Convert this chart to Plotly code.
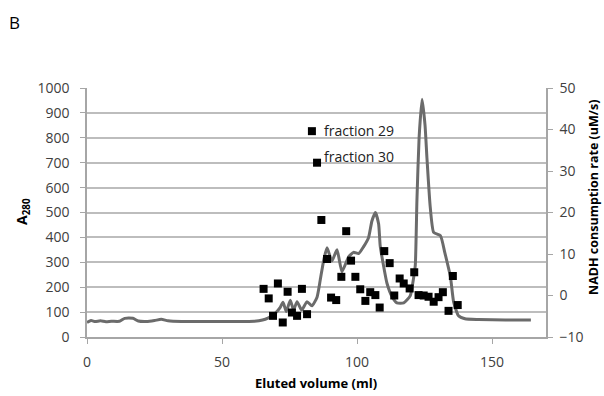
import plotly.graph_objects as go

# A280 elution profile (line, left axis)
volume_line = [0, 1.5, 3, 5, 7, 9, 12, 14, 17, 19, 22, 25, 27.5, 30, 35, 45, 55, 62, 65, 67,
               69.5, 71.5, 72.6, 73.8, 75.3, 76.5, 77.8, 79.5, 81.5, 83.3, 85.2, 86.4, 87.7,
               88.9, 90.7, 92.6, 94.4, 96.0, 96.9, 98.7, 100.6, 102.4, 104.3, 105.5, 106.8,
               108.0, 108.6, 109.9, 111.1, 113.0, 114.8, 117.3, 119.7, 121.0, 121.6, 122.2,
               123.0, 124.1, 125.2, 125.9, 127.1, 128.4, 130.9, 132.5, 134.6, 135.8, 137.6,
               140, 145, 155, 164.4]
a280 = [58, 66, 62, 65, 61, 63, 63, 75, 75, 64, 62, 66, 71, 65, 62, 62, 62, 63, 68, 76,
        93, 118, 140, 102, 148, 108, 142, 108, 142, 125, 160, 230, 310,
        358, 305, 350, 262, 300, 322, 340, 335, 362, 400, 465, 500,
        455, 365, 282, 216, 162, 137, 137, 165, 240, 290, 550,
        800, 955, 850, 720, 525, 420, 407, 340, 242, 140, 85,
        73, 70, 68, 68]

# NADH consumption rate per fraction (markers, right axis)
volume_frac = [65.4, 67.3, 68.9, 70.7, 72.5, 74.3, 75.9, 77.8, 79.6, 81.5, 83.3, 85.2,
               86.8, 88.9, 90.4, 92.3, 94.2, 96.0, 97.8, 99.4, 101.2, 103.1, 104.9, 106.8,
               108.4, 110.1, 112.1, 113.8, 115.8, 117.3, 119.5, 121.2, 122.8, 124.7, 126.5,
               128.4, 130.2, 131.8, 133.9, 135.5, 137.3]
nadh_rate = [1.6, -0.7, -4.9, 2.9, -6.5, 0.9, -4.1, -4.9, 1.6, -4.5, 39.6, 32.0,
             18.2, 8.8, -0.5, -1.1, 4.5, 15.5, 8.4, 4.5, 1.5, -1.3, 0.8, 0.1,
             -2.9, 10.7, 7.8, 0.0, 4.1, 2.9, 1.7, 5.6, 0.1, 0.0, -0.3,
             -1.5, -0.4, 0.8, -3.7, 4.7, -2.3]

label_texts = ["fraction 29", "fraction 30"]
label_x = [87.0, 87.0]
label_y = [39.7, 33.4]

FONT = "Open Sans"
TICK_COLOR = "#404040"
AXIS_COLOR = "#a6a6a6"

fig = go.Figure()
fig.add_trace(go.Scatter(x=volume_line, y=a280, mode="lines",
                         line=dict(color="#6b6b6b", width=3, shape="spline", smoothing=0.5),
                         showlegend=False, hoverinfo="skip"))
fig.add_trace(go.Scatter(x=volume_frac, y=nadh_rate, mode="markers", yaxis="y2",
                         marker=dict(symbol="square", size=8, color="black"),
                         showlegend=False))

annotations = []
for t, xv, yv in zip(label_texts, label_x, label_y):
    annotations.append(dict(x=xv, y=yv, xref="x", yref="y2", text=t, showarrow=False,
                            xanchor="left", yanchor="middle",
                            font=dict(family=FONT, size=14, color="#222222")))

L, R, T, B = 87, 58, 88, 59
W, H = 604, 396
pw = W - L - R
ph = H - T - B

def px(xp):
    return (xp - L) / pw

def py(yp):
    return (H - B - yp) / ph

annotations += [
    dict(x=px(14), y=py(22), xref="paper", yref="paper", text="B", showarrow=False,
         xanchor="center", yanchor="middle", font=dict(family=FONT, size=17, color="black")),
    dict(x=px(316), y=py(383), xref="paper", yref="paper", text="<b>Eluted volume (ml)</b>",
         showarrow=False, xanchor="center", yanchor="middle",
         font=dict(family=FONT, size=13, color="black")),
    dict(x=px(22), y=py(212), xref="paper", yref="paper", text="<b>A<sub>280</sub></b>",
         showarrow=False, textangle=-90, xanchor="center", yanchor="middle",
         font=dict(family=FONT, size=14, color="black")),
    dict(x=px(593), y=py(198), xref="paper", yref="paper",
         text="<b>NADH consumption rate (uM/s)</b>",
         showarrow=False, textangle=-90, xanchor="center", yanchor="middle",
         font=dict(family=FONT, size=12.5, color="black")),
]

fig.update_layout(
    width=W, height=H,
    margin=dict(l=L, r=R, t=T, b=B, pad=0),
    paper_bgcolor="white", plot_bgcolor="white",
    font=dict(family=FONT, size=14, color=TICK_COLOR),
    xaxis=dict(range=[0, 170], tick0=0, dtick=50, showgrid=False, zeroline=False,
               showline=True, linecolor=AXIS_COLOR, linewidth=1.5,
               ticks="outside", ticklen=5, tickcolor=AXIS_COLOR,
               ticklabelstandoff=6, tickfont=dict(size=14, color=TICK_COLOR)),
    yaxis=dict(range=[0, 1000], tick0=0, dtick=100, showgrid=True, gridcolor="#bdbdbd",
               gridwidth=1.5, zeroline=False, showline=True, linecolor=AXIS_COLOR,
               linewidth=1.5, ticks="outside", ticklen=5, tickcolor=AXIS_COLOR,
               ticklabelstandoff=8, tickfont=dict(size=14, color=TICK_COLOR)),
    yaxis2=dict(range=[-10, 50], tick0=-10, dtick=10, overlaying="y", side="right",
                showgrid=False, zeroline=False, showline=True, linecolor=AXIS_COLOR,
                linewidth=1.5, ticks="outside", ticklen=5, tickcolor=AXIS_COLOR,
                ticklabelstandoff=4, tickfont=dict(size=14, color=TICK_COLOR)),
    annotations=annotations,
)

fig.write_html("out.html")
